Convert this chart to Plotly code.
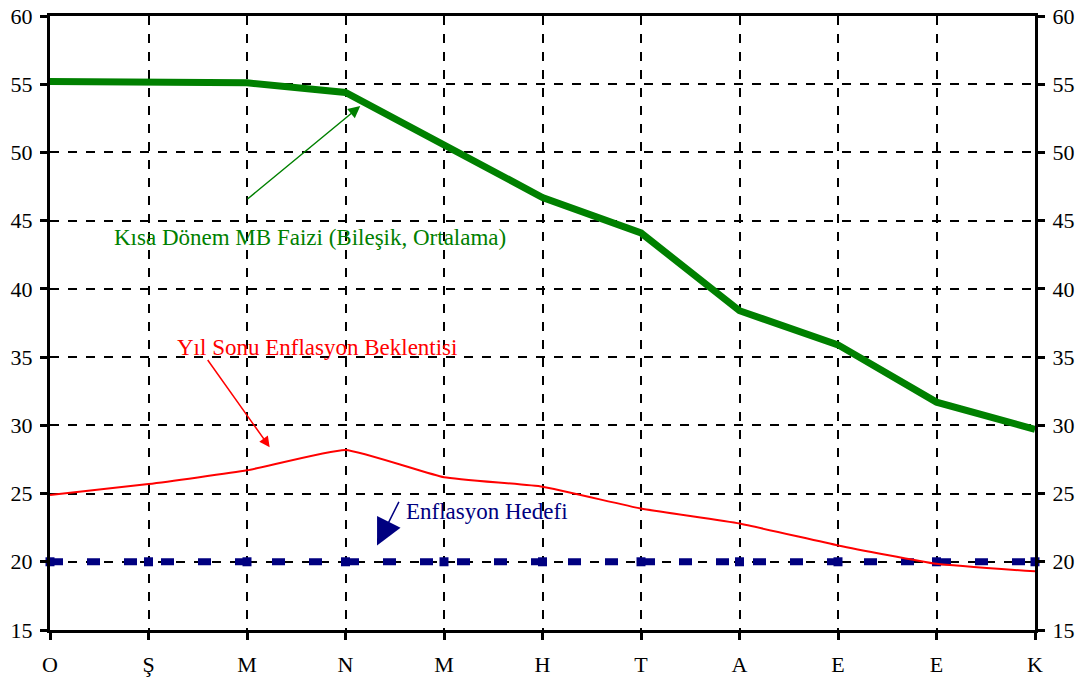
import plotly.graph_objects as go

months = ["O", "Ş", "M", "N", "M", "H", "T", "A", "E", "E", "K"]
faiz = [55.2, 55.2, 55.1, 54.4, 50.5, 46.7, 44.1, 38.4, 35.9, 31.7, 29.7]
beklenti = [24.9, 25.7, 26.7, 28.2, 26.2, 25.5, 23.9, 22.8, 21.2, 19.85, 19.3]
hedef = [20, 20, 20, 20, 20, 20, 20, 20, 20, 20, 20]
yticks = [15, 20, 25, 30, 35, 40, 45, 50, 55, 60]

xs = list(range(len(months)))
FONT = "Liberation Serif, Times New Roman, serif"

fig = go.Figure()
fig.add_trace(go.Scatter(x=xs, y=hedef, mode="lines+markers",
                         line=dict(color="#000080", width=7, dash="13px,24px"),
                         marker=dict(symbol="square", size=9, color="#000080"),
                         cliponaxis=False, showlegend=False))
fig.add_trace(go.Scatter(x=xs, y=beklenti, mode="lines",
                         line=dict(color="#ff0000", width=2, shape="spline", smoothing=0.4),
                         cliponaxis=False, showlegend=False))
fig.add_trace(go.Scatter(x=xs, y=faiz, mode="lines",
                         line=dict(color="#008000", width=7),
                         cliponaxis=False, showlegend=False))
fig.add_trace(go.Scatter(x=xs, y=faiz, yaxis="y2", mode="lines",
                         line=dict(width=0), hoverinfo="skip", showlegend=False))

axis_common = dict(showline=True, linecolor="black", linewidth=3, automargin=False,
                   ticks="outside", ticklen=7, tickwidth=3, tickcolor="black",
                   tickfont=dict(family=FONT, size=22, color="black"))

fig.update_layout(
    width=1088, height=682,
    margin=dict(l=50, r=53, t=16, b=52),
    paper_bgcolor="white", plot_bgcolor="white",
    font=dict(family=FONT),
    xaxis=dict(range=[0, 10], tickmode="array", tickvals=xs, ticktext=months,
               showgrid=True, gridcolor="black", gridwidth=1.5, griddash="dash",
               zeroline=False, mirror=True, ticklabelstandoff=6, **axis_common),
    yaxis=dict(range=[15, 60], tickmode="array", tickvals=yticks,
               showgrid=True, gridcolor="black", gridwidth=1.5, griddash="dash",
               zeroline=False, ticklabelstandoff=3, **axis_common),
    yaxis2=dict(range=[15, 60], overlaying="y", side="right", tickmode="array",
                tickvals=yticks, showgrid=False, zeroline=False,
                ticklabelstandoff=3, **axis_common),
)

fig.add_annotation(x=3.15, y=53.4, ax=1.99, ay=46.5, xref="x", yref="y",
                   axref="x", ayref="y", showarrow=True, arrowhead=2,
                   arrowsize=1.6, arrowwidth=1.5, arrowcolor="#008000", text="")
fig.add_annotation(x=2.64, y=43.75, xref="x", yref="y", showarrow=False,
                   text="Kısa Dönem MB Faizi (Bileşik, Ortalama)",
                   font=dict(family=FONT, size=23, color="#008000"))

fig.add_annotation(x=2.23, y=28.4, ax=1.59, ay=34.9, xref="x", yref="y",
                   axref="x", ayref="y", showarrow=True, arrowhead=2,
                   arrowsize=1.4, arrowwidth=1.5, arrowcolor="#ff0000", text="")
fig.add_annotation(x=2.71, y=35.7, xref="x", yref="y", showarrow=False,
                   text="Yıl Sonu Enflasyon Beklentisi",
                   font=dict(family=FONT, size=23, color="#ff0000"))

fig.add_annotation(x=3.32, y=21.2, ax=3.55, ay=24.5, xref="x", yref="y",
                   axref="x", ayref="y", showarrow=True, arrowhead=2,
                   arrowsize=3.5, arrowwidth=1.5, arrowcolor="#000080", text="")
fig.add_annotation(x=4.44, y=23.65, xref="x", yref="y", showarrow=False,
                   text="Enflasyon Hedefi",
                   font=dict(family=FONT, size=23, color="#000080"))

fig.write_html("out.html", config={"displayModeBar": False},
               post_script="document.body.style.margin='0';document.body.style.overflow='hidden';")
